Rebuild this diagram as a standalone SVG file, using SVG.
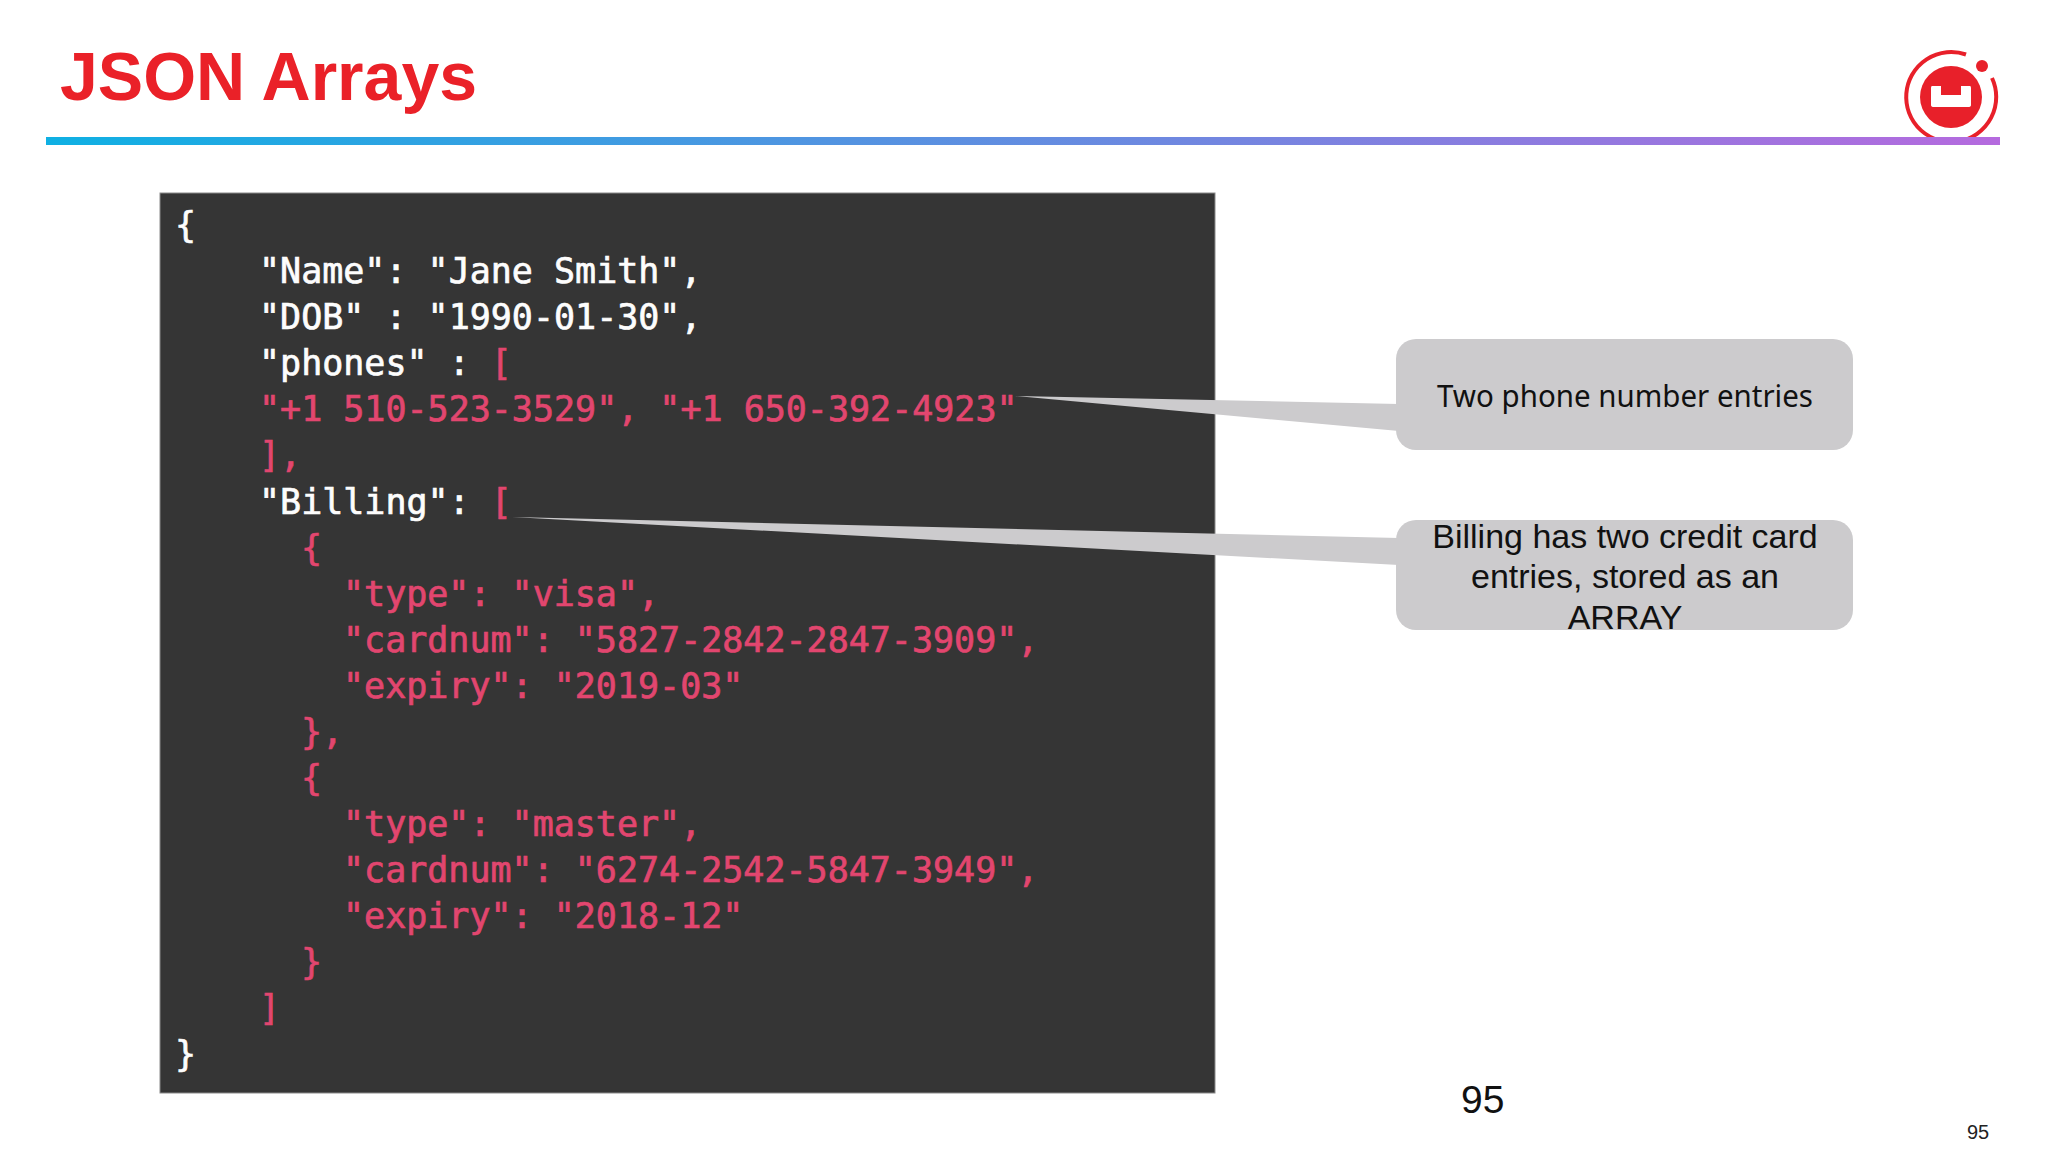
<svg xmlns="http://www.w3.org/2000/svg" width="2048" height="1152" viewBox="0 0 2048 1152">
<style>
.w{fill:#fdfdfd;stroke:#fdfdfd}.p{fill:#e2466f;stroke:#e2466f}
#code text{font-family:"DejaVu Sans Mono","Liberation Mono",monospace;font-size:35px;white-space:pre;stroke-width:.7px}
.c{fill:#cccbcd}
.a{font-family:"Liberation Sans",Arial,sans-serif;font-size:34px;fill:#111;text-anchor:middle}
</style>
<defs><linearGradient id="g" x1="0" x2="1" y1="0" y2="0"><stop offset="0" stop-color="#0fb0e3"/><stop offset="1" stop-color="#b56ade"/></linearGradient></defs>
<rect width="2048" height="1152" fill="#fff"/>
<text x="60" y="100" font-family="Liberation Sans,Arial,sans-serif" font-weight="700" font-size="68" fill="#ea2128">JSON Arrays</text>
<g id="logo">
<path d="M1966 54.500A45 45 0 1 0 1992 78" fill="none" stroke="#e8202a" stroke-width="4"/>
<circle cx="1951" cy="97" r="31" fill="#e8202a"/>
<circle cx="1982" cy="66" r="6" fill="#e8202a"/>
<path d="M1932 86h9v9h20v-9h9q1 0 1 2v17q0 2-3 2h-34q-3 0-3-2v-17q0-2 1-2z" fill="#fff"/>
</g>
<rect id="rule" x="46" y="137" width="1954" height="8" fill="url(#g)"/>
<g id="code">
<rect x="160" y="193" width="1055" height="900" fill="#353535" stroke="#8a8a8a" stroke-width="1"/>
<text x="175" y="237.300" class="w">{</text>
<text x="259" y="283.300" class="w">"Name": "Jane Smith",</text>
<text x="259" y="329.300" class="w">"DOB" : "1990-01-30",</text>
<text x="259" y="375.300" class="w">"phones" : <tspan class="p">[</tspan></text>
<text x="259" y="421.300" class="p">"+1 510-523-3529", "+1 650-392-4923"</text>
<text x="259" y="467.300" class="p">],</text>
<text x="259" y="514.300" class="w">"Billing": <tspan class="p">[</tspan></text>
<text x="301" y="560.300" class="p">{</text>
<text x="343" y="606.300" class="p">"type": "visa",</text>
<text x="343" y="652.300" class="p">"cardnum": "5827-2842-2847-3909",</text>
<text x="343" y="698.300" class="p">"expiry": "2019-03"</text>
<text x="301" y="744.300" class="p">},</text>
<text x="301" y="790.300" class="p">{</text>
<text x="343" y="836.300" class="p">"type": "master",</text>
<text x="343" y="882.300" class="p">"cardnum": "6274-2542-5847-3949",</text>
<text x="343" y="928.300" class="p">"expiry": "2018-12"</text>
<text x="301" y="974.300" class="p">}</text>
<text x="259" y="1020.300" class="p">]</text>
<text x="175" y="1066.300" class="w">}</text>
</g>
<g id="connectors">
<polygon class="c" points="1015,396 1399,404 1399,431"/>
<polygon class="c" points="512,517 1399,538 1399,565"/>
</g>
<g id="callout-phones">
<rect class="c" x="1396" y="339" width="457" height="111" rx="20"/>
<text x="1625" y="407" text-anchor="middle" font-family="Noto Sans,Open Sans,sans-serif" font-size="31" fill="#111" textLength="376" lengthAdjust="spacingAndGlyphs">Two phone number entries</text>
</g>
<g id="callout-billing">
<rect class="c" x="1396" y="520" width="457" height="110" rx="20"/>
<text class="a" x="1625" y="547.500">Billing has two credit card</text>
<text class="a" x="1625" y="588">entries, stored as an</text>
<text class="a" x="1625" y="629">ARRAY</text>
</g>
<text id="num" x="1461" y="1113" font-family="Liberation Sans,Arial,sans-serif" font-size="39" fill="#111">95</text>
<text id="page" x="1967" y="1139" font-family="Liberation Sans,Arial,sans-serif" font-size="20" fill="#222">95</text>
</svg>
